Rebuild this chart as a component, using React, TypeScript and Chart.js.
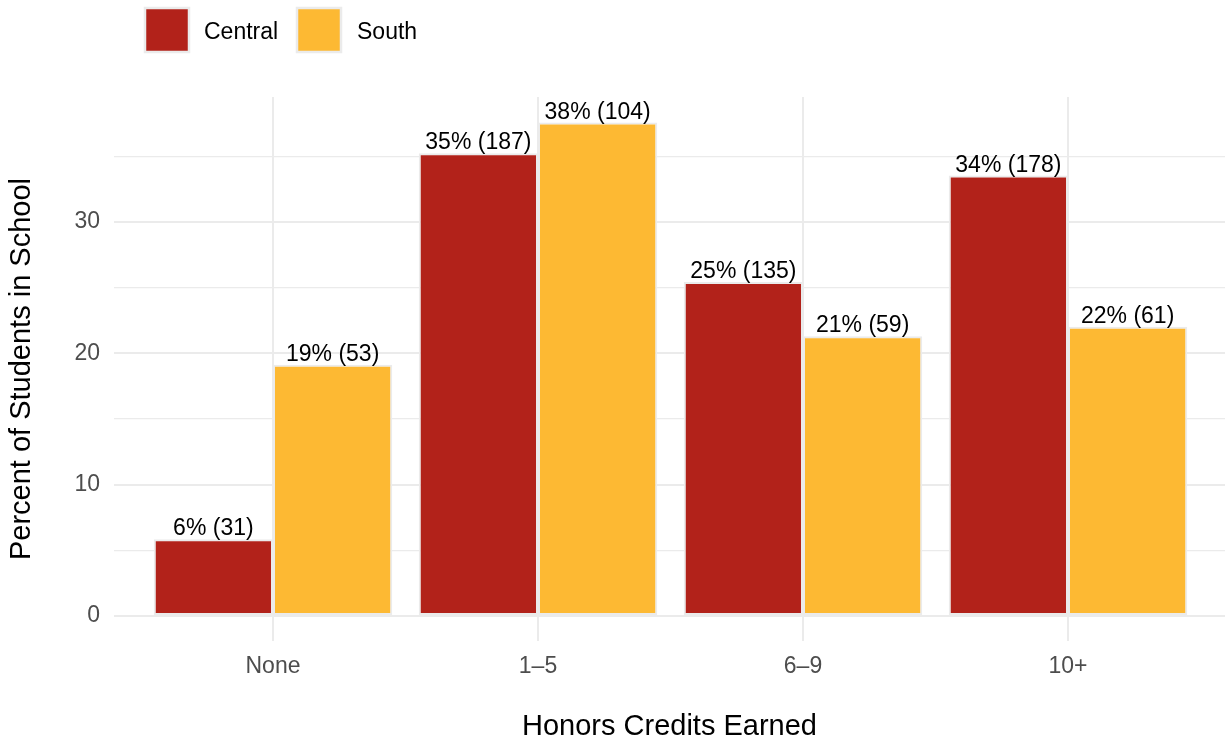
import React, { useEffect, useRef } from "react";
import { Chart, registerables } from "chart.js";

Chart.register(...registerables);

const categories = ["None", "1–5", "6–9", "10+"];
const seriesNames = ["Central", "South"];
const centralPct = [5.84, 35.22, 25.42, 33.52];
const southPct = [19.13, 37.55, 21.3, 22.02];
const centralLabels = ["6% (31)", "35% (187)", "25% (135)", "34% (178)"];
const southLabels = ["19% (53)", "38% (104)", "21% (59)", "22% (61)"];
const yTickValues = [0, 5, 10, 15, 20, 25, 30, 35];
const xTitle = "Honors Credits Earned";
const yTitle = "Percent of Students in School";

const FONT = '"Liberation Sans", Arial, Helvetica, sans-serif';
const RED = "#B2221A";
const YELLOW = "#FDB933";
const GRID = "#ebebeb";

const overlayPlugin = {
  id: "overlay",
  afterDatasetsDraw(chart: any) {
    const ctx = chart.ctx as CanvasRenderingContext2D;
    const area = chart.chartArea;
    ctx.save();
    // data labels
    ctx.font = `23px ${FONT}`;
    ctx.fillStyle = "#000";
    ctx.textAlign = "center";
    ctx.textBaseline = "alphabetic";
    chart.data.datasets.forEach((ds: any, di: number) => {
      const meta = chart.getDatasetMeta(di);
      meta.data.forEach((el: any, i: number) => {
        ctx.fillText(ds.valueLabels[i], el.x, el.y - 4);
      });
    });
    // legend
    const keys = [
      { x: 145, color: RED, text: seriesNames[0], tx: 204 },
      { x: 297, color: YELLOW, text: seriesNames[1], tx: 357 },
    ];
    keys.forEach((k) => {
      ctx.fillStyle = k.color;
      ctx.fillRect(k.x, 8, 44, 44);
      ctx.strokeStyle = GRID;
      ctx.lineWidth = 2.5;
      ctx.strokeRect(k.x, 8, 44, 44);
      ctx.fillStyle = "#000";
      ctx.textAlign = "left";
      ctx.textBaseline = "alphabetic";
      ctx.font = `23px ${FONT}`;
      ctx.fillText(k.text, k.tx, 38.5);
    });
    // axis titles
    ctx.font = `29px ${FONT}`;
    ctx.fillStyle = "#000";
    ctx.textAlign = "center";
    ctx.textBaseline = "alphabetic";
    ctx.fillText(xTitle, (area.left + area.right) / 2, 735);
    ctx.save();
    ctx.translate(29.5, (area.top + area.bottom) / 2);
    ctx.rotate(-Math.PI / 2);
    ctx.fillText(yTitle, 0, 0);
    ctx.restore();
    ctx.restore();
  },
};

export default function App() {
  const canvasRef = useRef<HTMLCanvasElement | null>(null);

  useEffect(() => {
    if (!canvasRef.current) return;
    const chart = new Chart(canvasRef.current, {
      type: "bar",
      data: {
        datasets: [
          {
            label: seriesNames[0],
            data: centralPct.map((v, i) => ({ x: i + 1, y: v })),
            backgroundColor: RED,
            borderColor: GRID,
            borderWidth: 2,
            borderSkipped: false,
            valueLabels: centralLabels,
          } as any,
          {
            label: seriesNames[1],
            data: southPct.map((v, i) => ({ x: i + 1, y: v })),
            backgroundColor: YELLOW,
            borderColor: GRID,
            borderWidth: 2,
            borderSkipped: false,
            valueLabels: southLabels,
          } as any,
        ],
      },
      options: {
        responsive: false,
        animation: false,
        categoryPercentage: 0.9,
        barPercentage: 1,
        layout: { padding: { top: 97, right: 0, bottom: 0, left: 0 } },
        plugins: {
          legend: { display: false },
          tooltip: { enabled: false },
          title: { display: false },
        },
        scales: {
          x: {
            type: "linear",
            min: 0.4,
            max: 0.4 + 1111 / 265,
            offset: false,
            afterBuildTicks: (s: any) => {
              s.ticks = categories.map((_, i) => ({ value: i + 1 }));
            },
            afterFit: (s: any) => {
              s.height = 99;
            },
            grid: {
              offset: false,
              color: GRID,
              lineWidth: 2,
              drawTicks: false,
            },
            border: { display: false },
            ticks: {
              padding: 12,
              color: "#4d4d4d",
              font: { family: FONT, size: 23 },
              autoSkip: false,
              maxRotation: 0,
              callback: (v: any) => categories[Math.round(v) - 1] ?? "",
            },
          },
          y: {
            type: "linear",
            min: -1.9,
            max: 39.5,
            afterBuildTicks: (s: any) => {
              s.ticks = yTickValues.map((v) => ({ value: v }));
            },
            afterFit: (s: any) => {
              s.width = 114;
            },
            grid: {
              color: GRID,
              lineWidth: (c: any) => (c.tick && c.tick.value % 10 === 0 ? 2 : 1.2),
              drawTicks: false,
            },
            border: { display: false },
            ticks: {
              padding: 14,
              color: "#4d4d4d",
              font: { family: FONT, size: 23 },
              callback: (v: any) => (Number(v) % 10 === 0 ? String(v) : ""),
            },
          },
        },
      } as any,
      plugins: [overlayPlugin],
    });
    return () => chart.destroy();
  }, []);

  return (
    <div style={{ position: "absolute", left: 0, top: 0, width: 1225, height: 740, background: "#fff" }}>
      <canvas ref={canvasRef} width={1225} height={740} style={{ display: "block" }} />
    </div>
  );
}
